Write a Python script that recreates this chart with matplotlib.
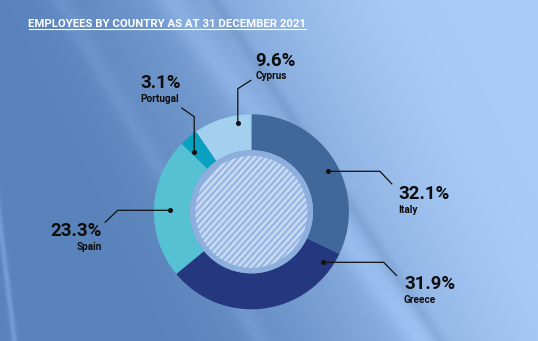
import numpy as np
import matplotlib
matplotlib.use("Agg")
import matplotlib.pyplot as plt
from matplotlib.patches import Circle
from matplotlib.collections import LineCollection
from matplotlib.colors import to_rgb

# ---- data ----
countries = ["Italy", "Greece", "Spain", "Portugal", "Cyprus"]
shares = [32.1, 31.9, 23.3, 3.1, 9.6]
colors = ["#41689b", "#25377f", "#55c1d3", "#0aa0bf", "#a3d0ee"]
title = "EMPLOYEES BY COUNTRY AS AT 31 DECEMBER 2021"

W, H = 538, 341
fig = plt.figure(figsize=(W / 100, H / 100), dpi=100)
ax = fig.add_axes([0, 0, 1, 1])


def Y(py):
    """Convert a top-down pixel row into the axes' y coordinate."""
    return H - py


# ---- background: blue gradient with soft diagonal streaks ----
xs = np.linspace(0, 1, W)
ys = np.linspace(0, 1, H)
gx, gy = np.meshgrid(xs, ys)
t = np.clip((gx - 0.30 * (gy - 0.5)) * 1.15 - 0.12, 0, 1)
t = t * t * (3 - 2 * t)
left = np.array(to_rgb("#5a83bb"))
right = np.array(to_rgb("#a9cbf7"))
img = left[None, None, :] * (1 - t[..., None]) + right[None, None, :] * t[..., None]

rowpix = gy * H
colpix = gx * W


def streak(x0, y0, x1, y1, width, amount):
    d = np.abs((y1 - y0) * colpix - (x1 - x0) * rowpix + x1 * y0 - y1 * x0)
    d /= np.hypot(x1 - x0, y1 - y0)
    return amount * np.exp(-(d / width) ** 2)


shade = np.zeros((H, W))
shade += streak(170, 0, 420, 341, 14, 0.06)
shade += streak(215, 0, 440, 341, 6, -0.05)
shade += streak(60, 0, 260, 341, 10, 0.04)
shade += streak(4, 260, 14, 341, 3, 0.10)
img = np.clip(img + shade[..., None], 0, 1)
ax.imshow(img, extent=(0, W, 0, H), origin="upper", zorder=0, aspect="auto")

# ---- donut ----
cx, cy = 251.4, Y(211.8)
r_out, r_in = 97.5, 61.6
ax.pie(shares, colors=colors, startangle=90, counterclock=False,
       radius=r_out, center=(cx, cy),
       wedgeprops=dict(width=r_out - r_in, linewidth=0), frame=True)

# inner disc with diagonal stripes
ax.add_patch(Circle((cx, cy), r_in, facecolor="#8cafdd", edgecolor="none", zorder=3))
disc = Circle((cx, cy), 56, facecolor="#97b7e2", edgecolor="none", zorder=4)
ax.add_patch(disc)
ang = np.deg2rad(48)
dirv = np.array([np.cos(ang), np.sin(ang)])
nrm = np.array([-dirv[1], dirv[0]])
segs = []
for k in np.arange(-60, 61, 4.7):
    c = np.array([cx, cy]) + k * nrm
    segs.append([c - 70 * dirv, c + 70 * dirv])
stripes = LineCollection(segs, colors="#cadcf3", linewidths=1.75, zorder=5)
ax.add_collection(stripes)
stripes.set_clip_path(disc)

# ---- leader lines ----
leaders = {
    "Italy": [(327.7, 171.3), (379.9, 171.3), (392.2, 184.3)],
    "Greece": [(322.6, 262.3), (383.7, 262.3), (397.0, 276.0)],
    "Spain": [(169.5, 210.3), (117.7, 210.3), (104.7, 222.7)],
    "Portugal": [(194.2, 152.0), (194.2, 116.7), (181.2, 107.7)],
    "Cyprus": [(237.8, 123.3), (237.8, 88.7), (251.5, 80.0)],
}
for name, pts in leaders.items():
    xs_ = [p[0] for p in pts]
    ys_ = [Y(p[1]) for p in pts]
    ax.plot(xs_, ys_, color="#111111", lw=0.9, zorder=6, solid_capstyle="butt")
    ax.plot(xs_[0], ys_[0], "o", color="#111111", ms=2.6, zorder=7)

# ---- labels ----
label_pos = {
    # name: (x, percent baseline, name baseline, ha)
    "Italy": (398.0, 199.3, 212.7, "left"),
    "Greece": (404.0, 289.3, 302.7, "left"),
    "Spain": (102.0, 236.0, 250.0, "right"),
    "Portugal": (140.5, 88.3, 102.3, "left"),
    "Cyprus": (255.7, 66.4, 79.0, "left"),
}
font = ["Roboto", "DejaVu Sans"]
for name, val in zip(countries, shares):
    x, yb1, yb2, ha = label_pos[name]
    ax.text(x, Y(yb1), f"{val:.1f}%", ha=ha, va="baseline", fontsize=13.4,
            fontweight="bold", family=font, color="#0d0d0d", zorder=8)
    ax.text(x, Y(yb2), name, ha=ha, va="baseline", fontsize=7.2,
            fontweight="bold", family=font, color="#0d0d0d", zorder=8)

# ---- title with underline ----
tt = ax.text(28.5, Y(26.7), title, ha="left", va="baseline", fontsize=8.2,
             fontweight="bold", family=font, color="white", zorder=8)

ax.set_xlim(0, W)
ax.set_ylim(0, H)
ax.set_axis_off()

fig.canvas.draw()
bb = tt.get_window_extent().transformed(ax.transData.inverted())
ax.plot([bb.x0, bb.x1], [Y(29.2), Y(29.2)], color="white", lw=0.8, zorder=8)

fig.savefig("out.png", dpi=100)
